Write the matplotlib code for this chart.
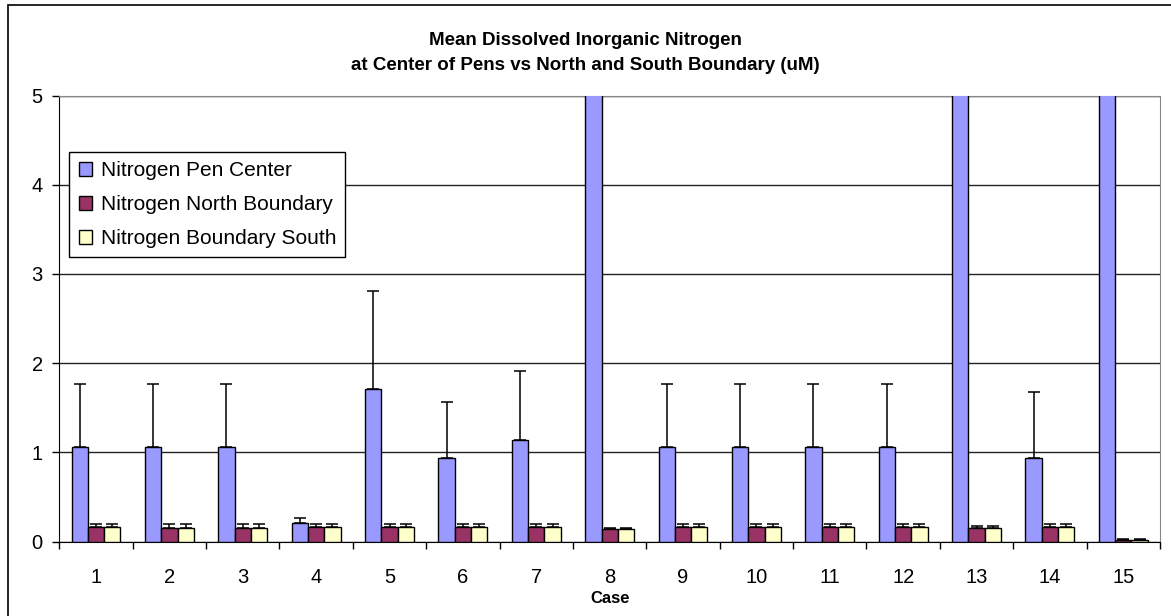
import numpy as np
import matplotlib as mpl
mpl.use('Agg')
import matplotlib.pyplot as plt
from matplotlib.patches import Rectangle

plt.rcParams['font.family'] = ['Liberation Sans', 'DejaVu Sans']

# data (cases 8, 13, 15 go off the top of the axis)
cases = [str(i) for i in range(1, 16)]
pen_center = [1.06, 1.06, 1.06, 0.21, 1.71, 0.94, 1.14, 12.0, 1.06, 1.06, 1.06, 1.06, 12.0, 0.94, 12.0]
pen_center_err = [0.71, 0.71, 0.71, 0.05, 1.10, 0.62, 0.77, 0.0, 0.71, 0.71, 0.71, 0.71, 0.0, 0.74, 0.0]
north = [0.17, 0.15, 0.15, 0.17, 0.17, 0.17, 0.17, 0.14, 0.17, 0.17, 0.17, 0.17, 0.15, 0.17, 0.02]
north_err = [0.03, 0.05, 0.05, 0.03, 0.03, 0.03, 0.03, 0.01, 0.03, 0.03, 0.03, 0.03, 0.03, 0.03, 0.01]
south = [0.17, 0.15, 0.15, 0.17, 0.17, 0.17, 0.17, 0.14, 0.17, 0.17, 0.17, 0.17, 0.15, 0.17, 0.02]
south_err = [0.03, 0.05, 0.05, 0.03, 0.03, 0.03, 0.03, 0.01, 0.03, 0.03, 0.03, 0.03, 0.03, 0.03, 0.01]

series = [
	('Nitrogen Pen Center', pen_center, pen_center_err, '#9999FF'),
	('Nitrogen North Boundary', north, north_err, '#993366'),
	('Nitrogen Boundary South', south, south_err, '#FFFFCC'),
	]

W, H = 1171, 616
fig = plt.figure(figsize=(W/100, H/100), dpi=100)
# outer chart frame, cut off at right and bottom like the screenshot
fig.patches.append(Rectangle((8/W, -0.1), 1.2, 1.1 - 5/H, transform=fig.transFigure,
	fill=False, edgecolor='black', linewidth=1.2))
ax = fig.add_axes([59.3/W, 1 - 541.7/H, (1160 - 59.3)/W, (541.7 - 95.5)/H])

x = np.arange(len(cases))
w = 0.222
for j, (name, vals, errs, col) in enumerate(series):
	pos = x + (j - 1)*w
	ax.bar(pos, vals, w, color=col, edgecolor='black', linewidth=1.0, label=name, zorder=3)
	ax.errorbar(pos, vals, yerr=[np.zeros(len(errs)), errs], fmt='none', ecolor='black',
		elinewidth=1.1, capsize=4.5, capthick=1.1, zorder=4)

ax.set_xlim(-0.5, 14.5)
ax.set_ylim(0, 5)
ax.set_yticks(range(6))
ax.yaxis.grid(True, color='#222222', linewidth=1.0, zorder=0)
ax.set_xticks(x)
ax.set_xticklabels(cases)
ax.set_xticks(np.arange(-0.5, 15, 1), minor=True)
ax.tick_params(axis='x', which='major', length=0, pad=19, labelsize=14.5)
ax.tick_params(axis='x', which='minor', length=5, width=1, direction='out')
ax.tick_params(axis='y', length=5, width=1, direction='out', labelsize=14.5, pad=7)
ax.spines['left'].set_color('black')
ax.spines['bottom'].set_color('black')
ax.spines['top'].set_color('#888888')
ax.spines['right'].set_color('#888888')
ax.set_xlabel('Case', fontsize=12, fontweight='bold', labelpad=3)

fig.text(0.5, 1 - 45/H, 'Mean Dissolved Inorganic Nitrogen', ha='center', va='baseline',
	fontsize=13.5, fontweight='bold')
fig.text(0.5, 1 - 69.5/H, 'at Center of Pens vs North and South Boundary (uM)', ha='center', va='baseline',
	fontsize=13.5, fontweight='bold')

leg = ax.legend(loc='upper left', bbox_to_anchor=(10/1100.7, 1 - 56/446.2), fontsize=15,
	frameon=True, fancybox=False, edgecolor='black', framealpha=1, borderpad=0.45,
	handlelength=0.65, handleheight=0.65, handletextpad=0.4, labelspacing=0.72, borderaxespad=0)
leg.get_frame().set_linewidth(1.0)

fig.savefig('out.png', dpi=100)
